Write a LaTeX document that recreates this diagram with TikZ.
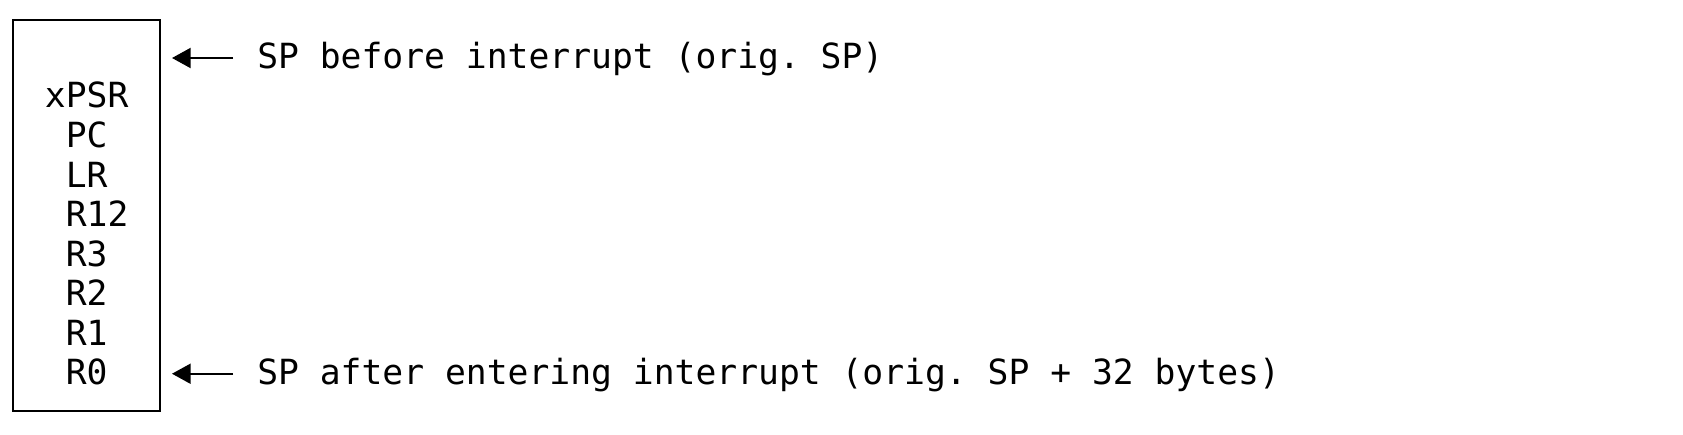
\documentclass[tikz,border=0pt]{standalone}
\usepackage{fontspec}
\setmonofont{DejaVu Sans Mono}
\usetikzlibrary{positioning,arrows.meta}
\begin{document}
\begin{tikzpicture}[x=0.75pt, y=-0.75pt,
  every node/.style = {font=\ttfamily\fontsize{26}{31}\selectfont, inner sep=0pt},
  reg/.style = {text height=21pt, text depth=8.25pt},
  stack/.style = {below=0pt of #1.south west, anchor=north west},
  note/.style = {anchor=base west, text height=16.5pt, text depth=0pt},
  pointer/.style = {line width=1.5pt, shorten <=18pt,
    -{Triangle[length=14pt,width=15pt]}}]
  \useasboundingbox (0,0) rectangle (1683,435);
  \draw[line width=2pt] (13,20) rectangle (160,411);
  \node[reg, anchor=base west] (xpsr) at (44.7,108) {xPSR};
  \node[reg, stack=xpsr, xshift=15.65pt] (pc) {PC};
  \node[reg, stack=pc] (lr) {LR};
  \node[reg, stack=lr] (r12) {R12};
  \node[reg, stack=r12] (r3) {R3};
  \node[reg, stack=r3] (r2) {R2};
  \node[reg, stack=r2] (r1) {R1};
  \node[reg, stack=r1] (r0) {R0};
  \node[note] (before) at (257,69) {SP before interrupt (orig.\ SP)};
  \node[note] (after) at (before.base west |- r0.base)
    {SP after entering interrupt (orig.\ SP + 32 bytes)};
  \coordinate (edge) at (172,0);
\draw [pointer] (before.west) -- (before.west -| edge);
\draw [pointer] (after.west) -- (after.west -| edge);
\end{tikzpicture}
\end{document}
